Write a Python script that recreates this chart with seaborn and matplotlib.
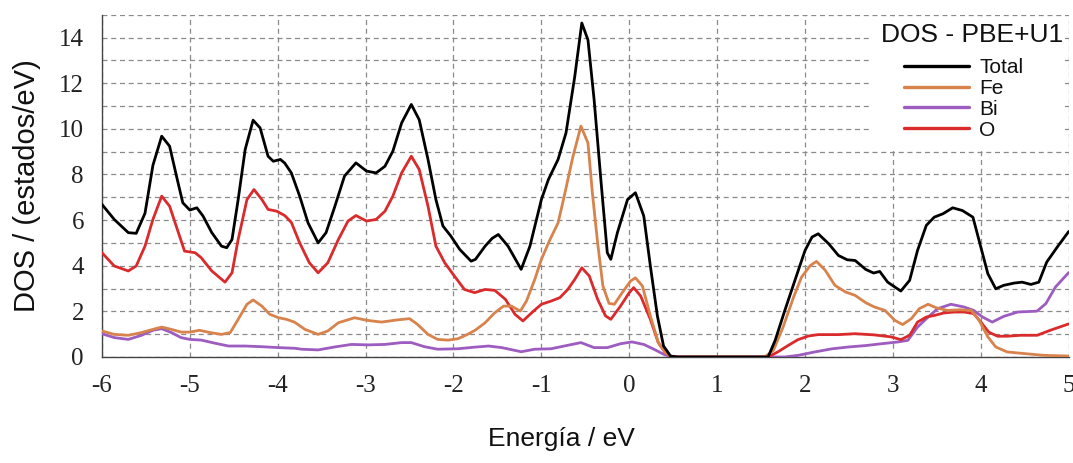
import matplotlib
matplotlib.use("Agg")
import matplotlib.pyplot as plt
from matplotlib.ticker import MultipleLocator, FuncFormatter
from matplotlib.patches import Rectangle
import seaborn as sns
import pandas as pd

# Densidad de estados (PBE+U1): energía (eV) y DOS (estados/eV) por especie
energy_total = [-6.00, -5.86, -5.70, -5.61, -5.51, -5.42, -5.32, -5.23, -5.15, -5.08,
                -5.00, -4.92, -4.85, -4.75, -4.64, -4.58, -4.52, -4.45, -4.37, -4.28,
                -4.20, -4.11, -4.05, -3.97, -3.92, -3.845, -3.75, -3.655, -3.54, -3.45,
                -3.35, -3.24, -3.11, -2.99, -2.88, -2.78, -2.69, -2.59, -2.48, -2.39,
                -2.29, -2.20, -2.12, -2.03, -1.93, -1.80, -1.75, -1.64, -1.56, -1.49,
                -1.38, -1.23, -1.13, -1.00, -0.92, -0.81, -0.72, -0.62, -0.54, -0.47,
                -0.40, -0.32, -0.25, -0.21, -0.135, -0.02, 0.07, 0.165, 0.24, 0.32,
                0.39, 0.47, 0.55, 1.00, 1.58, 1.66, 1.77, 1.885, 2.00, 2.08,
                2.15, 2.27, 2.38, 2.48, 2.57, 2.69, 2.78, 2.85, 2.94, 3.09,
                3.19, 3.28, 3.38, 3.47, 3.57, 3.68, 3.79, 3.91, 3.98, 4.08,
                4.17, 4.26, 4.38, 4.47, 4.57, 4.66, 4.75, 4.87, 5.00]
dos_total = [6.69, 6.03, 5.45, 5.42, 6.30, 8.40, 9.68, 9.24, 7.90, 6.76,
             6.44, 6.54, 6.18, 5.45, 4.86, 4.79, 5.15, 6.90, 9.10, 10.38,
             10.04, 8.80, 8.58, 8.66, 8.50, 8.07, 7.05, 5.88, 5.00, 5.45,
             6.60, 7.93, 8.51, 8.15, 8.07, 8.36, 9.02, 10.26, 11.07, 10.40,
             8.66, 6.90, 5.74, 5.30, 4.72, 4.20, 4.28, 4.86, 5.20, 5.37,
             4.86, 3.84, 4.86, 6.90, 7.78, 8.66, 9.82, 12.30, 14.64, 13.90,
             11.28, 7.63, 4.57, 4.28, 5.45, 6.90, 7.20, 6.18, 3.99, 1.80,
             0.48, 0.04, 0.00, 0.00, 0.00, 0.73, 2.04, 3.36, 4.67, 5.26,
             5.40, 4.96, 4.45, 4.26, 4.23, 3.84, 3.68, 3.75, 3.28, 2.89,
             3.36, 4.67, 5.77, 6.13, 6.28, 6.54, 6.42, 6.13, 5.11, 3.65,
             2.99, 3.14, 3.24, 3.28, 3.18, 3.28, 4.16, 4.82, 5.50]

energy_fe = [-6.00, -5.86, -5.70, -5.55, -5.42, -5.32, -5.21, -5.10, -5.00, -4.89,
             -4.77, -4.64, -4.54, -4.45, -4.35, -4.28, -4.18, -4.09, -3.99, -3.90,
             -3.81, -3.69, -3.54, -3.43, -3.31, -3.125, -2.99, -2.82, -2.65, -2.50,
             -2.41, -2.29, -2.18, -2.06, -1.95, -1.84, -1.75, -1.64, -1.53, -1.43,
             -1.34, -1.24, -1.17, -1.075, -1.00, -0.91, -0.81, -0.74, -0.64, -0.55,
             -0.47, -0.42, -0.36, -0.30, -0.23, -0.17, -0.08, 0.015, 0.07, 0.15,
             0.24, 0.33, 0.41, 0.485, 1.00, 1.54, 1.64, 1.75, 1.87, 1.96,
             2.06, 2.13, 2.23, 2.34, 2.46, 2.57, 2.69, 2.79, 2.91, 3.02,
             3.11, 3.21, 3.30, 3.40, 3.49, 3.62, 3.77, 3.89, 3.98, 4.08,
             4.17, 4.30, 4.49, 4.72, 5.00]
dos_fe = [1.14, 0.99, 0.95, 1.07, 1.21, 1.31, 1.21, 1.09, 1.09, 1.17,
          1.07, 0.99, 1.07, 1.65, 2.31, 2.50, 2.23, 1.87, 1.72, 1.65,
          1.53, 1.21, 0.99, 1.14, 1.50, 1.72, 1.61, 1.53, 1.62, 1.68,
          1.43, 0.99, 0.77, 0.74, 0.80, 0.99, 1.18, 1.50, 1.94, 2.23,
          2.23, 2.01, 2.45, 3.40, 4.28, 5.08, 5.88, 7.05, 8.80, 10.12,
          9.38, 7.20, 5.00, 3.11, 2.35, 2.31, 2.82, 3.33, 3.47, 3.11,
          1.80, 0.63, 0.19, 0.00, 0.00, 0.00, 0.29, 1.31, 2.63, 3.50,
          4.01, 4.19, 3.80, 3.14, 2.85, 2.70, 2.38, 2.19, 2.04, 1.61,
          1.42, 1.68, 2.12, 2.31, 2.16, 2.04, 2.07, 2.04, 1.61, 0.88,
          0.44, 0.22, 0.15, 0.07, 0.04]

energy_bi = [-6.00, -5.86, -5.70, -5.55, -5.42, -5.32, -5.21, -5.10, -5.00, -4.87,
             -4.71, -4.56, -4.37, -4.18, -3.99, -3.80, -3.73, -3.54, -3.35, -3.16,
             -2.97, -2.78, -2.59, -2.48, -2.33, -2.18, -1.95, -1.76, -1.60, -1.45,
             -1.23, -1.075, -0.89, -0.74, -0.55, -0.40, -0.25, -0.10, 0.03, 0.165,
             0.28, 0.39, 0.485, 1.00, 1.77, 1.92, 2.11, 2.31, 2.50, 2.69,
             2.87, 3.06, 3.17, 3.28, 3.40, 3.51, 3.66, 3.81, 3.92, 4.02,
             4.13, 4.26, 4.42, 4.64, 4.74, 4.85, 5.00]
dos_bi = [1.02, 0.85, 0.77, 0.95, 1.17, 1.24, 1.07, 0.85, 0.77, 0.74,
          0.60, 0.48, 0.48, 0.45, 0.41, 0.38, 0.34, 0.31, 0.44, 0.55,
          0.53, 0.55, 0.63, 0.63, 0.45, 0.34, 0.36, 0.43, 0.48, 0.41,
          0.23, 0.34, 0.36, 0.48, 0.63, 0.41, 0.41, 0.58, 0.66, 0.55,
          0.34, 0.12, 0.00, 0.00, 0.00, 0.07, 0.22, 0.36, 0.44, 0.50,
          0.58, 0.66, 0.73, 1.31, 1.75, 2.12, 2.31, 2.19, 2.04, 1.75,
          1.53, 1.78, 1.97, 2.01, 2.34, 3.07, 3.70]

energy_o = [-6.00, -5.86, -5.70, -5.61, -5.51, -5.42, -5.32, -5.23, -5.13, -5.06,
            -4.94, -4.87, -4.75, -4.60, -4.52, -4.45, -4.35, -4.27, -4.18, -4.11,
            -4.01, -3.92, -3.845, -3.75, -3.64, -3.54, -3.43, -3.31, -3.20, -3.11,
            -2.99, -2.88, -2.78, -2.69, -2.59, -2.48, -2.39, -2.29, -2.20, -2.10,
            -1.99, -1.875, -1.76, -1.64, -1.53, -1.41, -1.30, -1.21, -1.09, -1.00,
            -0.89, -0.79, -0.70, -0.62, -0.54, -0.455, -0.36, -0.27, -0.21, -0.10,
            0.00, 0.05, 0.13, 0.24, 0.33, 0.41, 0.485, 1.00, 1.58, 1.69,
            1.81, 1.92, 2.04, 2.15, 2.38, 2.57, 2.78, 2.98, 3.09, 3.19,
            3.28, 3.38, 3.47, 3.58, 3.70, 3.81, 3.92, 4.00, 4.09, 4.19,
            4.30, 4.45, 4.64, 4.79, 5.00]
dos_o = [4.57, 3.99, 3.77, 3.99, 4.86, 6.03, 7.05, 6.61, 5.45, 4.64,
         4.57, 4.35, 3.77, 3.28, 3.69, 5.15, 6.90, 7.34, 6.90, 6.47,
         6.39, 6.20, 5.90, 5.00, 4.13, 3.69, 4.13, 5.15, 5.96, 6.20,
         5.96, 6.03, 6.39, 7.05, 8.07, 8.80, 8.22, 6.61, 4.86, 4.13,
         3.55, 2.96, 2.82, 2.96, 2.92, 2.53, 1.87, 1.58, 2.01, 2.31,
         2.45, 2.60, 2.96, 3.40, 3.91, 3.55, 2.53, 1.80, 1.65, 2.23,
         2.82, 3.04, 2.67, 1.65, 0.63, 0.19, 0.00, 0.00, 0.00, 0.22,
         0.51, 0.76, 0.92, 0.98, 0.98, 1.02, 0.97, 0.88, 0.76, 0.95,
         1.53, 1.75, 1.82, 1.93, 1.97, 1.97, 1.90, 1.53, 1.09, 0.91,
         0.91, 0.95, 0.95, 1.17, 1.45]

series_names = ["Total", "Fe", "Bi", "O"]
series_colors = {"Total": "#000000", "Fe": "#d8824c", "Bi": "#9d5cbf", "O": "#da2a2c"}
panel_title = "DOS - PBE+U1"

frames = []
for name, e, d in [("Total", energy_total, dos_total), ("Fe", energy_fe, dos_fe),
                   ("Bi", energy_bi, dos_bi), ("O", energy_o, dos_o)]:
    frames.append(pd.DataFrame({"E": e, "DOS": d, "serie": name}))
df = pd.concat(frames, ignore_index=True)

sns.set_theme(style="white")
plt.rcParams["font.family"] = ["Liberation Sans", "DejaVu Sans"]

fig = plt.figure(figsize=(10.73, 4.63), dpi=100)
ax = fig.add_axes([0.095, 0.229, 0.901, 0.739])

# El total se dibuja encima de las contribuciones parciales
draw_order = ["Bi", "O", "Fe", "Total"]
for name in draw_order:
    sub = df[df["serie"] == name]
    sns.lineplot(data=sub, x="E", y="DOS", ax=ax, color=series_colors[name],
                 linewidth=2.0, label=name, sort=True, estimator=None, zorder=3)

ax.set_xlim(-6, 5)
ax.set_ylim(0, 15)

ax.xaxis.set_major_locator(MultipleLocator(1))
ax.xaxis.set_minor_locator(MultipleLocator(0.2))
ax.yaxis.set_major_locator(MultipleLocator(1))
ax.yaxis.set_minor_locator(MultipleLocator(0.2))
ax.yaxis.set_major_formatter(FuncFormatter(
    lambda v, p: f"{int(round(v))}" if round(v) % 2 == 0 and v < 14.5 else ""))
ax.xaxis.set_major_formatter(FuncFormatter(lambda v, p: f"{int(round(v))}"))

ax.grid(True, which="major", linestyle=(0, (4, 3)), color="#8a8a8a", linewidth=0.9, zorder=0)
ax.set_axisbelow(True)

for side in ["top", "right"]:
    ax.spines[side].set_visible(False)
for side in ["left", "bottom"]:
    ax.spines[side].set_color("#444444")
    ax.spines[side].set_linewidth(1.0)

ax.tick_params(axis="x", which="major", direction="out", length=8, width=0.9,
               color="#444444", labelsize=18, pad=5)
ax.tick_params(axis="x", which="minor", direction="out", length=5, width=0.7,
               color="#444444")
ax.tick_params(axis="y", which="major", direction="out", length=7, width=0.9,
               color="#444444", labelsize=18, pad=6)
ax.tick_params(axis="y", which="minor", direction="out", length=4, width=0.7,
               color="#444444")
for lab in ax.get_xticklabels() + ax.get_yticklabels():
    lab.set_fontfamily(["Liberation Serif", "DejaVu Serif"])
    lab.set_color("#222222")

ax.set_xlabel("Energía / eV", fontsize=19, color="#111111")
ax.set_ylabel("DOS / (estados/eV)", fontsize=21, color="#111111")
ax.xaxis.set_label_coords(0.475, -0.205)
ax.yaxis.set_label_coords(-0.063, 0.50)

# Recuadro blanco detrás de la leyenda
ax.add_patch(Rectangle((0.795, 0.605), 0.198, 0.389, transform=ax.transAxes,
                       facecolor="white", edgecolor="none", zorder=1))
ax.text(0.994, 0.975, panel_title, transform=ax.transAxes, ha="right", va="top",
        fontsize=19, color="#111111", zorder=5)

handles, labels = ax.get_legend_handles_labels()
order = [labels.index(n) for n in series_names]
leg = ax.legend([handles[i] for i in order], [labels[i] for i in order],
                loc="upper left", bbox_to_anchor=(0.830, 0.874),
                fontsize=15, frameon=False, handlelength=3.1, handletextpad=0.5,
                labelspacing=0.09, borderpad=0.0, borderaxespad=0.0)
for line in leg.get_lines():
    line.set_linewidth(2.4)
for t in leg.get_texts():
    t.set_color("#111111")

fig.savefig("out.png", dpi=100, facecolor="white")
